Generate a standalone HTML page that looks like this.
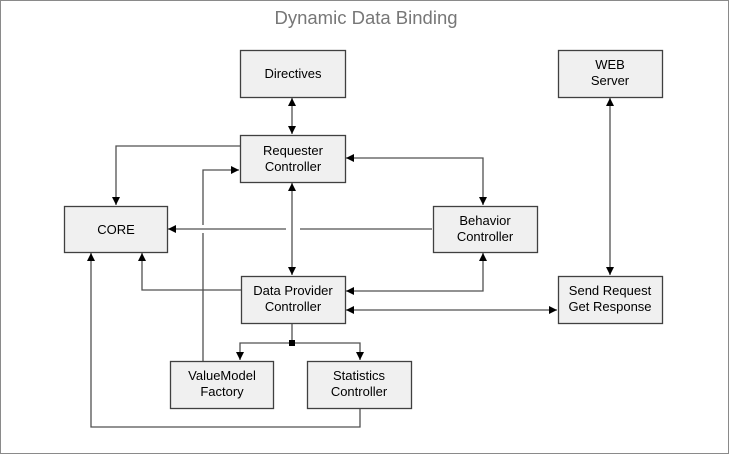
<!DOCTYPE html>
<html><head><style>
html,body{margin:0;padding:0;background:#fff;}
svg{display:block;}
text{font-family:"Liberation Sans",Arial,sans-serif;font-size:13px;fill:#000;}
</style></head><body>
<svg width="730" height="455" viewBox="0 0 730 455" xmlns="http://www.w3.org/2000/svg">
<defs>
<marker id="a" viewBox="0 0 10 10" refX="10" refY="5" markerWidth="8" markerHeight="8" markerUnits="userSpaceOnUse" orient="auto-start-reverse">
<path d="M0,0 L10,5 L0,10 z" fill="#000"/></marker>
</defs>
<rect x="0.5" y="0.5" width="728" height="453" fill="#fff" stroke="#8a8a8a"/>
<text x="366" y="24" text-anchor="middle" style="font-size:18.5px;fill:#777">Dynamic Data Binding</text>
<g stroke="#505050" stroke-width="1.3" fill="none">
<path d="M292,98 V134" marker-start="url(#a)" marker-end="url(#a)"/>
<path d="M240,146 H116 V205" marker-end="url(#a)"/>
<path d="M203,361 V233 M203,225 V170 H239" marker-end="url(#a)"/>
<path d="M292,183 V275" marker-start="url(#a)" marker-end="url(#a)"/>
<path d="M346,158 H483 V205" marker-start="url(#a)" marker-end="url(#a)"/>
<path d="M432,229 H300 M286,229 H168" marker-end="url(#a)"/>
<path d="M241,290 H142 V253" marker-end="url(#a)"/>
<path d="M346,291 H483 V253" marker-start="url(#a)" marker-end="url(#a)"/>
<path d="M346,310 H557" marker-start="url(#a)" marker-end="url(#a)"/>
<path d="M610,98 V275" marker-start="url(#a)" marker-end="url(#a)"/>
<path d="M292,323 V343"/>
<path d="M292,343 H240 V360" marker-end="url(#a)"/>
<path d="M292,343 H360 V360" marker-end="url(#a)"/>
<path d="M360,408 V427 H91 V253" marker-end="url(#a)"/>
</g>
<rect x="289" y="340" width="6" height="6" fill="#000"/>
<g fill="#f0f0f0" stroke="#404040" stroke-width="1.3">
<rect x="240.5" y="50.5" width="105" height="47"/>
<rect x="240.5" y="135.5" width="105" height="47"/>
<rect x="64.5" y="206.5" width="103" height="46"/>
<rect x="433.5" y="206.5" width="104" height="46"/>
<rect x="241.5" y="276.5" width="104" height="47"/>
<rect x="170.5" y="361.5" width="103" height="47"/>
<rect x="307.5" y="361.5" width="104" height="47"/>
<rect x="558.5" y="50.5" width="104" height="47"/>
<rect x="558.5" y="276.5" width="104" height="47"/>
</g>
<g text-anchor="middle">
<text x="293" y="78">Directives</text>
<text x="293" y="155">Requester</text><text x="293" y="171">Controller</text>
<text x="116" y="234">CORE</text>
<text x="485" y="225">Behavior</text><text x="485" y="241">Controller</text>
<text x="293" y="295">Data Provider</text><text x="293" y="311">Controller</text>
<text x="222" y="380">ValueModel</text><text x="222" y="396">Factory</text>
<text x="359" y="380">Statistics</text><text x="359" y="396">Controller</text>
<text x="610" y="69">WEB</text><text x="610" y="85">Server</text>
<text x="610" y="295">Send Request</text><text x="610" y="311">Get Response</text>
</g>
</svg>
</body></html>
